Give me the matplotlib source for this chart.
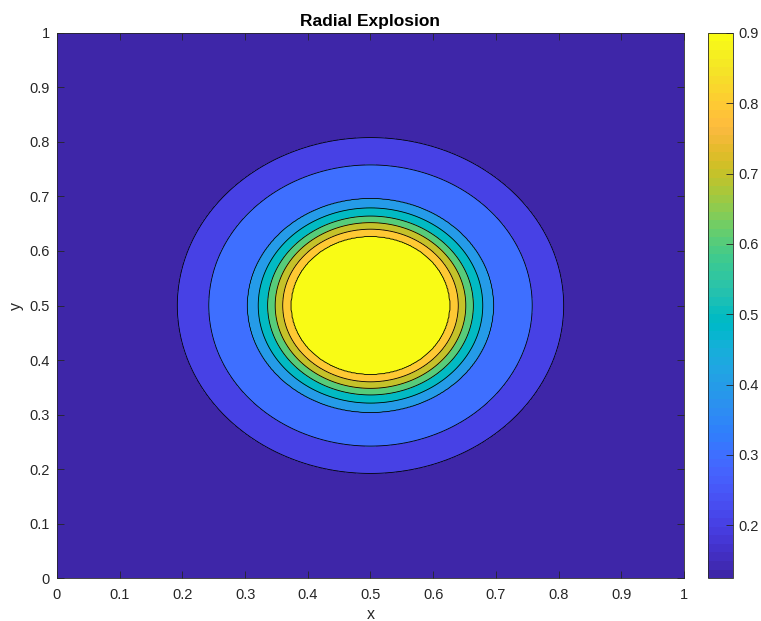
import numpy as np
import matplotlib
matplotlib.use("Agg")
from matplotlib import pyplot as plt
from matplotlib.colors import ListedColormap, Normalize
from matplotlib.cm import ScalarMappable

# contour levels and the radius (from the centre) where each one sits
levels = [0.2, 0.3, 0.4, 0.5, 0.6, 0.7, 0.8, 0.9]
radii = [0.308, 0.258, 0.196, 0.179, 0.164, 0.152, 0.140, 0.127]
rho_min = 0.125
rho_max = 1.0
r_outer = 0.36
cx, cy = 0.5, 0.5
tick_labels = ['0', '0.1', '0.2', '0.3', '0.4', '0.5', '0.6', '0.7', '0.8', '0.9', '1']
cbar_labels = ['0.2', '0.3', '0.4', '0.5', '0.6', '0.7', '0.8', '0.9']

# parula, 64 entries
parula_rgb = [
    [0.2422, 0.1504, 0.6603], [0.2504, 0.1650, 0.7076], [0.2578, 0.1818, 0.7511], [0.2647, 0.1978, 0.7952],
    [0.2706, 0.2147, 0.8364], [0.2751, 0.2342, 0.8710], [0.2783, 0.2559, 0.8991], [0.2803, 0.2782, 0.9221],
    [0.2813, 0.3006, 0.9414], [0.2810, 0.3228, 0.9579], [0.2795, 0.3447, 0.9717], [0.2760, 0.3667, 0.9829],
    [0.2699, 0.3892, 0.9906], [0.2602, 0.4123, 0.9952], [0.2440, 0.4358, 0.9988], [0.2206, 0.4603, 0.9973],
    [0.1963, 0.4847, 0.9892], [0.1834, 0.5074, 0.9798], [0.1786, 0.5289, 0.9682], [0.1764, 0.5499, 0.9520],
    [0.1687, 0.5703, 0.9359], [0.1540, 0.5902, 0.9218], [0.1460, 0.6091, 0.9079], [0.1380, 0.6276, 0.8973],
    [0.1248, 0.6459, 0.8883], [0.1113, 0.6635, 0.8763], [0.0952, 0.6798, 0.8598], [0.0689, 0.6948, 0.8394],
    [0.0297, 0.7082, 0.8163], [0.0036, 0.7203, 0.7917], [0.0067, 0.7312, 0.7660], [0.0433, 0.7411, 0.7394],
    [0.0964, 0.7500, 0.7120], [0.1408, 0.7584, 0.6842], [0.1717, 0.7670, 0.6554], [0.1938, 0.7758, 0.6251],
    [0.2161, 0.7843, 0.5923], [0.2470, 0.7918, 0.5567], [0.2906, 0.7973, 0.5188], [0.3406, 0.8008, 0.4789],
    [0.3909, 0.8029, 0.4354], [0.4456, 0.8024, 0.3909], [0.5044, 0.7993, 0.3480], [0.5616, 0.7942, 0.3045],
    [0.6174, 0.7876, 0.2612], [0.6720, 0.7793, 0.2227], [0.7242, 0.7698, 0.1910], [0.7738, 0.7598, 0.1646],
    [0.8203, 0.7498, 0.1535], [0.8634, 0.7406, 0.1596], [0.9035, 0.7330, 0.1774], [0.9393, 0.7288, 0.2100],
    [0.9728, 0.7298, 0.2394], [0.9956, 0.7434, 0.2371], [0.9970, 0.7659, 0.2199], [0.9952, 0.7893, 0.2028],
    [0.9892, 0.8136, 0.1885], [0.9786, 0.8386, 0.1766], [0.9676, 0.8639, 0.1643], [0.9610, 0.8890, 0.1537],
    [0.9597, 0.9135, 0.1423], [0.9628, 0.9373, 0.1265], [0.9691, 0.9606, 0.1064], [0.9769, 0.9839, 0.0805],
]
parula = ListedColormap(parula_rgb, name="parula")

# radial density profile built from the level/radius pairs
r_nodes = [0.0] + radii[::-1] + [r_outer]
v_nodes = [rho_max] + levels[::-1] + [rho_min]

n = 601
x = np.linspace(0, 1, n)
y = np.linspace(0, 1, n)
X, Y = np.meshgrid(x, y)
R = np.sqrt((X - cx)**2 + (Y - cy)**2)
rho = np.interp(R, r_nodes, v_nodes)

norm = Normalize(vmin=rho_min, vmax=levels[-1])
fill_levels = [0.1] + levels + [1.1]
# each band takes the colour of its lower level
band_colors = [parula(norm(v)) for v in [rho_min] + levels]

txt = '#262626'
plt.rcParams['font.family'] = ['Liberation Sans', 'DejaVu Sans']
fig = plt.figure(figsize=(7.61, 6.21), dpi=100)
ax = fig.add_axes([0.0749, 0.0692, 0.8239, 0.8777])
ax.contourf(X, Y, rho, levels=fill_levels, colors=band_colors)
ax.contour(X, Y, rho, levels=levels, colors='k', linewidths=0.6)

ax.set_xlim(0, 1)
ax.set_ylim(0, 1)
ax.set_xticks(np.arange(0, 1.01, 0.1))
ax.set_yticks(np.arange(0, 1.01, 0.1))
ax.set_xticklabels(tick_labels)
ax.set_yticklabels(tick_labels)
ax.tick_params(direction='in', top=True, right=True, length=5, width=0.6,
               labelsize=10.5, colors=txt)
ax.tick_params(axis='x', pad=7)
ax.tick_params(axis='y', pad=5)
for s in ax.spines.values():
    s.set_color(txt)
    s.set_linewidth(0.6)
ax.set_xlabel('x', fontsize=11.5, color=txt, labelpad=3.5)
ax.set_ylabel('y', fontsize=11.5, color=txt, labelpad=4)
ax.set_title('Radial Explosion', fontsize=12.5, fontweight='bold', pad=5)

cax = fig.add_axes([0.9304, 0.0692, 0.0329, 0.8777])
cb = fig.colorbar(ScalarMappable(norm=norm, cmap=parula), cax=cax, ticks=levels)
cb.ax.set_yticklabels(cbar_labels)
cb.ax.tick_params(direction='in', length=5, width=0.6, labelsize=10.5, colors=txt, pad=4)
cb.outline.set_edgecolor(txt)
cb.outline.set_linewidth(0.6)

fig.savefig('out.png', dpi=100)
